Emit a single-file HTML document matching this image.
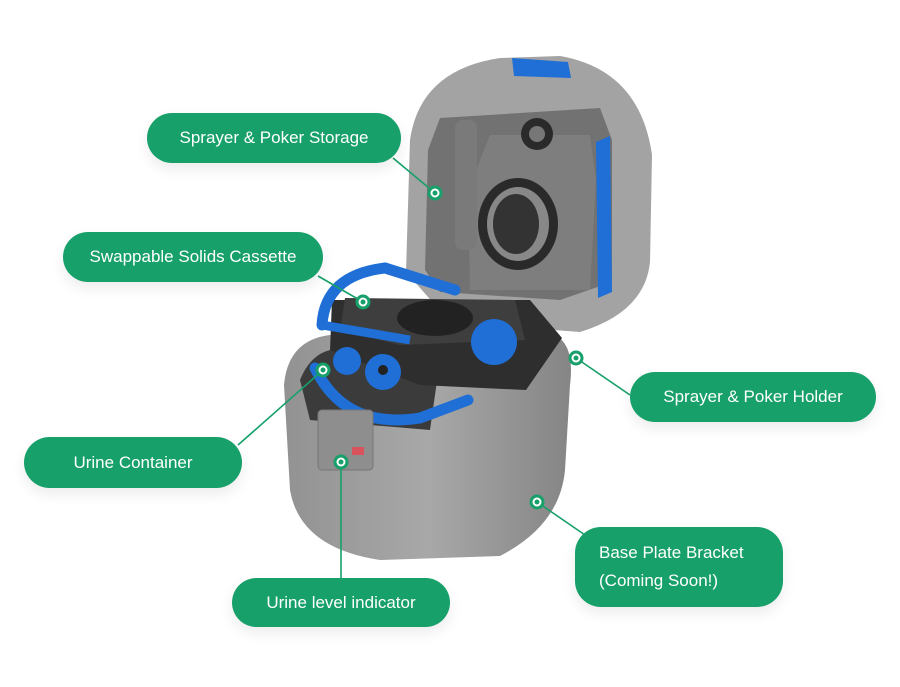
<!DOCTYPE html>
<html><head><style>
html,body{margin:0;padding:0;background:#fff;}
body{width:900px;height:687px;position:relative;overflow:hidden;font-family:"Liberation Sans",sans-serif;}
.lab{position:absolute;background:#17a06a;color:#fff;border-radius:26px;font-size:17px;display:flex;align-items:center;justify-content:center;box-shadow:0 6px 14px rgba(0,0,0,0.08);}
</style></head><body>
<svg width="900" height="687" style="position:absolute;left:0;top:0">
<defs>
<linearGradient id="g1" x1="0" y1="0" x2="1" y2="0"><stop offset="0" stop-color="#929292"/><stop offset="0.5" stop-color="#a8a8a8"/><stop offset="1" stop-color="#858585"/></linearGradient>
</defs>
<!-- lid -->
<path d="M406,272 L410,140 Q420,70 500,58 L560,56 Q640,70 652,155 L650,262 Q645,312 580,332 L450,322 Z" fill="#a3a3a3"/>
<path d="M425,270 L428,150 L440,118 L600,108 L612,140 L612,282 L560,300 L440,292 Z" fill="#727272"/>
<path d="M490,135 L590,135 L596,180 L590,290 L470,290 L468,190 Z" fill="#7e7e7e"/>
<ellipse cx="537" cy="134" rx="16" ry="16" fill="#2a2a2a"/><ellipse cx="537" cy="134" rx="8" ry="8" fill="#777"/>
<ellipse cx="518" cy="224" rx="40" ry="46" fill="#2a2a2a"/><ellipse cx="518" cy="224" rx="31" ry="37" fill="#888"/><ellipse cx="516" cy="224" rx="23" ry="30" fill="#333"/>
<rect x="455" y="120" width="22" height="130" rx="8" fill="#7a7a7a"/>
<path d="M596,142 L610,136 L612,292 L598,298 Z" fill="#1f6fd6"/>
<path d="M512,58 L568,62 L571,78 L514,76 Z" fill="#1f6fd6"/>
<!-- base -->
<path d="M284,385 Q288,340 330,335 L555,335 Q575,345 570,385 L565,470 Q560,525 500,556 L380,560 Q300,548 290,490 Z" fill="url(#g1)"/>
<path d="M300,380 Q310,355 330,350 L440,360 L430,430 L310,420 Z" fill="#3b3b3b"/>
<!-- cassette -->
<path d="M332,300 L530,300 L562,338 L526,390 L420,385 L330,350 Z" fill="#2e2e2e"/>
<path d="M345,298 L515,300 L525,340 L400,345 L340,330 Z" fill="#3e3e3e"/>
<ellipse cx="435" cy="318" rx="38" ry="18" fill="#222"/>
<circle cx="494" cy="342" r="23" fill="#1f6fd6"/>
<path d="M322,325 Q325,275 385,268 L455,290" stroke="#1f6fd6" stroke-width="11" fill="none" stroke-linecap="round"/>
<path d="M322,325 L410,340" stroke="#1f6fd6" stroke-width="9" fill="none"/>
<path d="M315,368 Q345,430 420,418 L468,400" stroke="#1f6fd6" stroke-width="11" fill="none" stroke-linecap="round"/>
<circle cx="347" cy="361" r="14" fill="#1f6fd6"/>
<circle cx="383" cy="372" r="18" fill="#1f6fd6"/><circle cx="383" cy="370" r="5" fill="#222"/>
<rect x="318" y="410" width="55" height="60" rx="4" fill="#8e8e8e" stroke="#777"/>
<rect x="352" y="447" width="12" height="8" fill="#d9535d"/>
<!-- connectors -->
<g stroke="#17a06a" stroke-width="1.6" fill="none">
<line x1="393" y1="158" x2="435" y2="193"/>
<line x1="318" y1="276" x2="363" y2="302"/>
<line x1="630" y1="395" x2="576" y2="358"/>
<line x1="238" y1="445" x2="323" y2="370"/>
<line x1="341" y1="580" x2="341" y2="462"/>
<line x1="585" y1="535" x2="537" y2="502"/>
</g>
<g fill="#fff" stroke="#17a06a" stroke-width="3">
<circle cx="435" cy="193" r="6"/><circle cx="363" cy="302" r="6"/><circle cx="576" cy="358" r="6"/>
<circle cx="323" cy="370" r="6"/><circle cx="341" cy="462" r="6"/><circle cx="537" cy="502" r="6"/>
</g>
<g fill="#17a06a"><circle cx="435" cy="193" r="2.5"/><circle cx="363" cy="302" r="2.5"/><circle cx="576" cy="358" r="2.5"/><circle cx="323" cy="370" r="2.5"/><circle cx="341" cy="462" r="2.5"/><circle cx="537" cy="502" r="2.5"/></g>
</svg>
<div class="lab" style="left:147px;top:113px;width:254px;height:50px">Sprayer &amp; Poker Storage</div>
<div class="lab" style="left:63px;top:232px;width:260px;height:50px">Swappable Solids Cassette</div>
<div class="lab" style="left:630px;top:372px;width:246px;height:50px">Sprayer &amp; Poker Holder</div>
<div class="lab" style="left:24px;top:437px;width:218px;height:51px">Urine Container</div>
<div class="lab" style="left:232px;top:578px;width:218px;height:49px">Urine level indicator</div>
<div class="lab" style="left:575px;top:527px;width:208px;height:80px;justify-content:flex-start;padding-left:24px;box-sizing:border-box;line-height:28px">Base Plate Bracket<br>(Coming Soon!)</div>
</body></html>
